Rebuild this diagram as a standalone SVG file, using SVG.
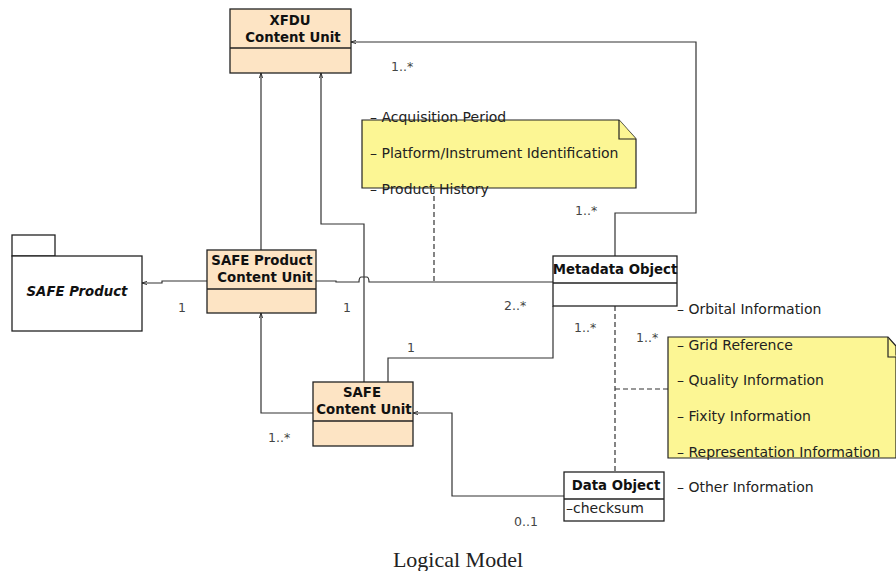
<svg xmlns="http://www.w3.org/2000/svg" width="896" height="571" viewBox="0 0 896 571">
  <style>
    .cls { fill: #fde4c4; stroke: #222; stroke-width: 1.3; }
    .obj { fill: #ffffff; stroke: #222; stroke-width: 1.3; }
    .note { fill: #fcf694; stroke: #222; stroke-width: 1.2; }
    .line { fill: none; stroke: #333; stroke-width: 1.2; }
    .dash { fill: none; stroke: #333; stroke-width: 1.2; stroke-dasharray: 5 3; }
    .title { font-family: "DejaVu Sans", "Liberation Sans", sans-serif; font-size: 13.3px; font-weight: bold; fill: #111; text-anchor: middle; }
    .txt { font-family: "DejaVu Sans", "Liberation Sans", sans-serif; font-size: 14px; fill: #222; }
    .mult { font-family: "DejaVu Sans", "Liberation Sans", sans-serif; font-size: 12.5px; fill: #444; }
    .caption { font-family: "Liberation Serif", "Times New Roman", serif; font-size: 22px; fill: #222; text-anchor: middle; }
  </style>
  <defs>
    <marker id="arrow" viewBox="0 0 6 6" refX="6" refY="3" markerWidth="5" markerHeight="5" orient="auto-start-reverse" markerUnits="userSpaceOnUse">
      <path d="M0,1 L6,3 L0,5" fill="none" stroke="#222" stroke-width="1"/>
    </marker>
  </defs>

  <!-- connectors -->
  <g id="connectors">
    <!-- SAFE Product Content Unit -> XFDU Content Unit -->
    <path class="line" d="M261,250 V73" marker-end="url(#arrow)"/>
    <!-- SAFE Content Unit -> XFDU Content Unit -->
    <path class="line" d="M364,382 V224 H321 V73" marker-end="url(#arrow)"/>
    <!-- Metadata Object -> XFDU Content Unit -->
    <path class="line" d="M615,256 V213 H696 V42 H351" marker-end="url(#arrow)"/>
    <!-- SAFE Product Content Unit -> SAFE Product -->
    <path class="line" d="M207,281 H162 V283 H142" marker-end="url(#arrow)"/>
    <!-- SAFE Product Content Unit to Metadata Object, hopping over the vertical at x=364 -->
    <path class="line" d="M316,281 H336 V282 H359 Q359,277 361.5,277 H366.5 Q369,277 369,282 H553"/>
    <!-- SAFE Content Unit -> SAFE Product Content Unit -->
    <path class="line" d="M313,413 H261 V313" marker-end="url(#arrow)"/>
    <!-- Metadata Object to SAFE Content Unit -->
    <path class="line" d="M553,306 V358 H388 V382"/>
    <!-- Data Object to SAFE Content Unit -->
    <path class="line" d="M564,496 H452 V413 H413" marker-end="url(#arrow)"/>
    <!-- note anchors -->
    <path class="dash" d="M434,188 V281"/>
    <path class="dash" d="M615,306 V472"/>
    <path class="dash" d="M615,389 H668"/>
  </g>

  <!-- XFDU Content Unit -->
  <g id="xfdu-content-unit">
    <rect class="cls" x="230" y="9" width="121" height="64"/>
    <line class="cls" x1="230" y1="48" x2="351" y2="48"/>
    <text class="title" x="290" y="25">XFDU</text>
    <text class="title" x="293" y="42">Content Unit</text>
  </g>

  <!-- SAFE Product package -->
  <g id="safe-product">
    <rect class="obj" x="12" y="235" width="43" height="21"/>
    <rect class="obj" x="12" y="256" width="130" height="75"/>
    <text class="title" x="77" y="296" font-style="italic">SAFE Product</text>
  </g>

  <!-- SAFE Product Content Unit -->
  <g id="safe-product-content-unit">
    <rect class="cls" x="207" y="250" width="109" height="63"/>
    <line class="cls" x1="207" y1="289" x2="316" y2="289"/>
    <text class="title" x="262" y="265">SAFE Product</text>
    <text class="title" x="265" y="282">Content Unit</text>
  </g>

  <!-- SAFE Content Unit -->
  <g id="safe-content-unit">
    <rect class="cls" x="313" y="382" width="100" height="64"/>
    <line class="cls" x1="313" y1="421" x2="413" y2="421"/>
    <text class="title" x="362" y="397">SAFE</text>
    <text class="title" x="364" y="414">Content Unit</text>
  </g>

  <!-- Metadata Object -->
  <g id="metadata-object">
    <rect class="obj" x="553" y="256" width="124" height="50"/>
    <line class="obj" x1="553" y1="283" x2="677" y2="283"/>
    <text class="title" x="615" y="274">Metadata Object</text>
  </g>

  <!-- Data Object -->
  <g id="data-object">
    <rect class="obj" x="564" y="472" width="100" height="49"/>
    <line class="obj" x1="564" y1="499" x2="664" y2="499"/>
    <text class="title" x="616" y="490">Data Object</text>
    <text class="txt" x="566" y="513">–checksum</text>
  </g>

  <!-- note on product-level metadata -->
  <g id="note-product">
    <path class="note" d="M362,120 H619 L636,139 V188 H362 Z"/>
    <path class="note" d="M619,120 V139 H636"/>
    <text class="txt" x="370" y="122">– Acquisition Period</text>
    <text class="txt" x="370" y="158">– Platform/Instrument Identification</text>
    <text class="txt" x="370" y="194">– Product History</text>
  </g>

  <!-- note on object-level metadata -->
  <g id="note-object">
    <path class="note" d="M668,337 H888 L896,346 V458 H668 Z"/>
    <path class="note" d="M888,337 V357 H896"/>
    <text class="txt" x="677" y="350">– Grid Reference</text>
    <text class="txt" x="677" y="385">– Quality Information</text>
    <text class="txt" x="677" y="421">– Fixity Information</text>
    <text class="txt" x="677" y="457">– Representation Information</text>
  </g>

  <!-- free-standing attribute labels -->
  <g id="labels">
    <text class="txt" x="677" y="314">– Orbital Information</text>
    <text class="txt" x="677" y="492">– Other Information</text>
  </g>

  <!-- multiplicities -->
  <g id="multiplicities">
    <text class="mult" x="391" y="71">1..*</text>
    <text class="mult" x="575" y="215">1..*</text>
    <text class="mult" x="178" y="312">1</text>
    <text class="mult" x="343" y="312">1</text>
    <text class="mult" x="504" y="310">2..*</text>
    <text class="mult" x="574" y="332">1..*</text>
    <text class="mult" x="636" y="342">1..*</text>
    <text class="mult" x="407" y="352">1</text>
    <text class="mult" x="268" y="442">1..*</text>
    <text class="mult" x="514" y="526">0..1</text>
  </g>

  <text class="caption" x="458" y="567">Logical Model</text>
</svg>
